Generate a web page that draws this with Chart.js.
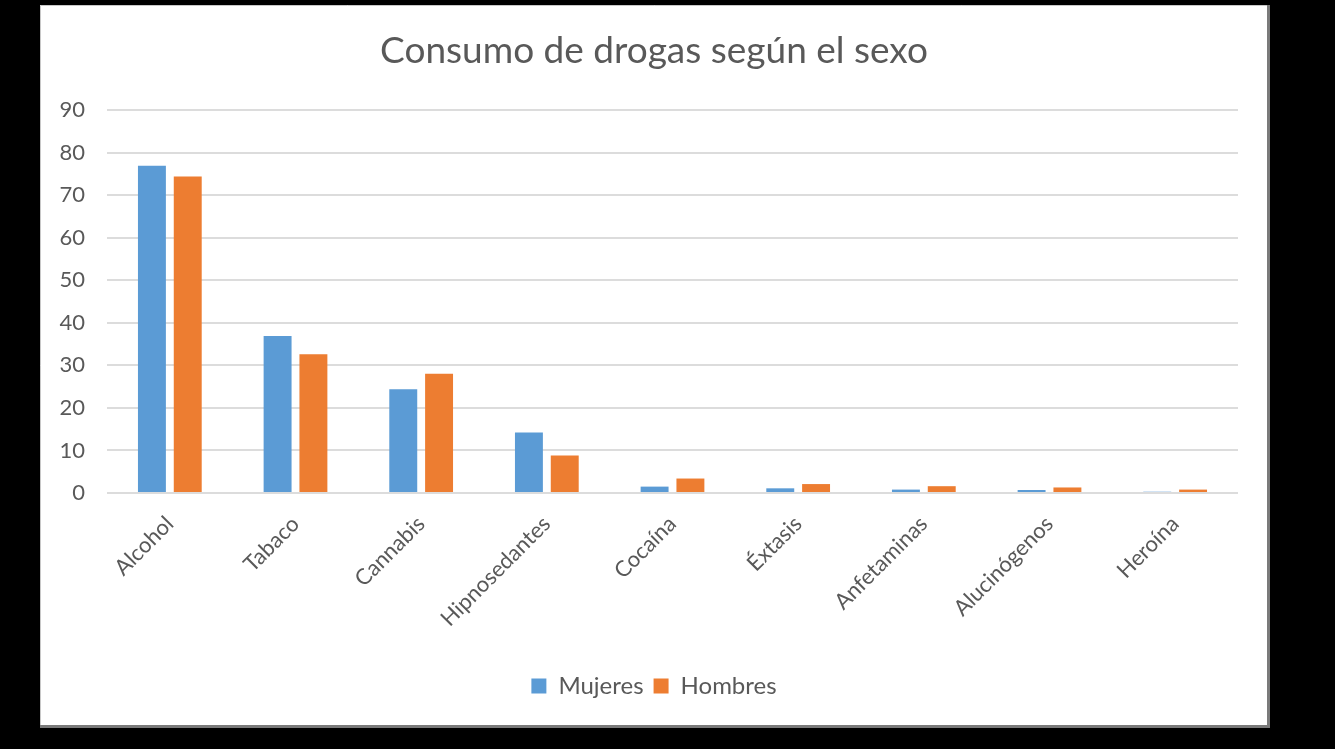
<!DOCTYPE html>
<html>
<head>
<meta charset="utf-8">
<script src="https://cdn.jsdelivr.net/npm/chart.js@4"></script>
<style>
html,body{margin:0;padding:0;background:#000;}
#wrap{position:absolute;left:0;top:0;width:1335px;height:749px;}
</style>
</head>
<body>
<div id="wrap"><canvas id="c" width="1335" height="749"></canvas></div>
<script>
const categories = ['Alcohol','Tabaco','Cannabis','Hipnosedantes','Cocaína','Éxtasis','Anfetaminas','Alucinógenos','Heroína'];
const mujeres = [76.9, 36.9, 24.4, 14.2, 1.5, 1.1, 0.8, 0.7, 0.3];
const hombres = [74.4, 32.6, 28.0, 8.8, 3.4, 2.1, 1.6, 1.3, 0.8];
const yTicks = [0,10,20,30,40,50,60,70,80,90];

const FONT = 'Lato, "Noto Sans", sans-serif';
const bgPlugin = {
  id: 'bg',
  beforeDraw(chart){
    const ctx = chart.ctx;
    ctx.save();
    ctx.fillStyle = '#000';
    ctx.fillRect(0,0,chart.width,chart.height);
    ctx.fillStyle = '#fff';
    ctx.fillRect(40,5,1230,721);
    ctx.strokeStyle = '#c8c8c8';
    ctx.lineWidth = 1;
    ctx.beginPath(); ctx.moveTo(40.5,726); ctx.lineTo(40.5,5.5); ctx.lineTo(1268,5.5); ctx.stroke();
    ctx.strokeStyle = '#7a7a7a';
    ctx.lineWidth = 3;
    ctx.beginPath(); ctx.moveTo(1268.5,5); ctx.lineTo(1268.5,726.5); ctx.lineTo(40,726.5); ctx.stroke();
    ctx.restore();
  }
};

new Chart(document.getElementById('c'), {
  type: 'bar',
  data: {
    labels: categories,
    datasets: [
      {label:'Mujeres', data: mujeres, backgroundColor:'#5B9BD5', borderWidth:0},
      {label:'Hombres', data: hombres, backgroundColor:'#ED7D31', borderWidth:0}
    ]
  },
  plugins: [bgPlugin],
  options: {
    responsive: false,
    animation: false,
    devicePixelRatio: 1,
    layout: { padding: { left: 47, right: 74, top: 29, bottom: 41 } },
    datasets: { bar: { categoryPercentage: 0.57, barPercentage: 0.78 } },
    plugins: {
      title: {
        display: true,
        text: 'Consumo de drogas según el sexo',
        color: '#595959',
        font: { family: FONT, size: 37, weight: 'normal' },
        padding: { top: 0, bottom: 36.6 }
      },
      legend: {
        position: 'bottom',
        labels: {
          color: '#595959',
          font: { family: FONT, size: 24 },
          boxWidth: 15, boxHeight: 15,
          padding: 10
        }
      },
      tooltip: { enabled: false }
    },
    scales: {
      x: {
        grid: { display: false, drawTicks: false },
        border: { display: false },
        ticks: {
          color: '#595959',
          font: { family: FONT, size: 22 },
          minRotation: 45, maxRotation: 45,
          padding: 18
        },
        afterFit(s){ s.height = 171; }
      },
      y: {
        min: 0, max: 90,
        afterBuildTicks(s){ s.ticks = yTicks.map(v => ({value: v})); },
        grid: { color: '#dcdcdc', lineWidth: 2, drawTicks: false },
        border: { display: false },
        ticks: {
          color: '#595959',
          font: { family: FONT, size: 22 },
          padding: 22
        },
        afterFit(s){ s.width = 60; }
      },
      y2: {
        position: 'right',
        min: 0, max: 90,
        grid: { display: false, drawOnChartArea: false, drawTicks: false },
        border: { display: false },
        ticks: { display: false },
        afterFit(s){ s.width = 23; }
      }
    }
  }
});
</script>
</body>
</html>
